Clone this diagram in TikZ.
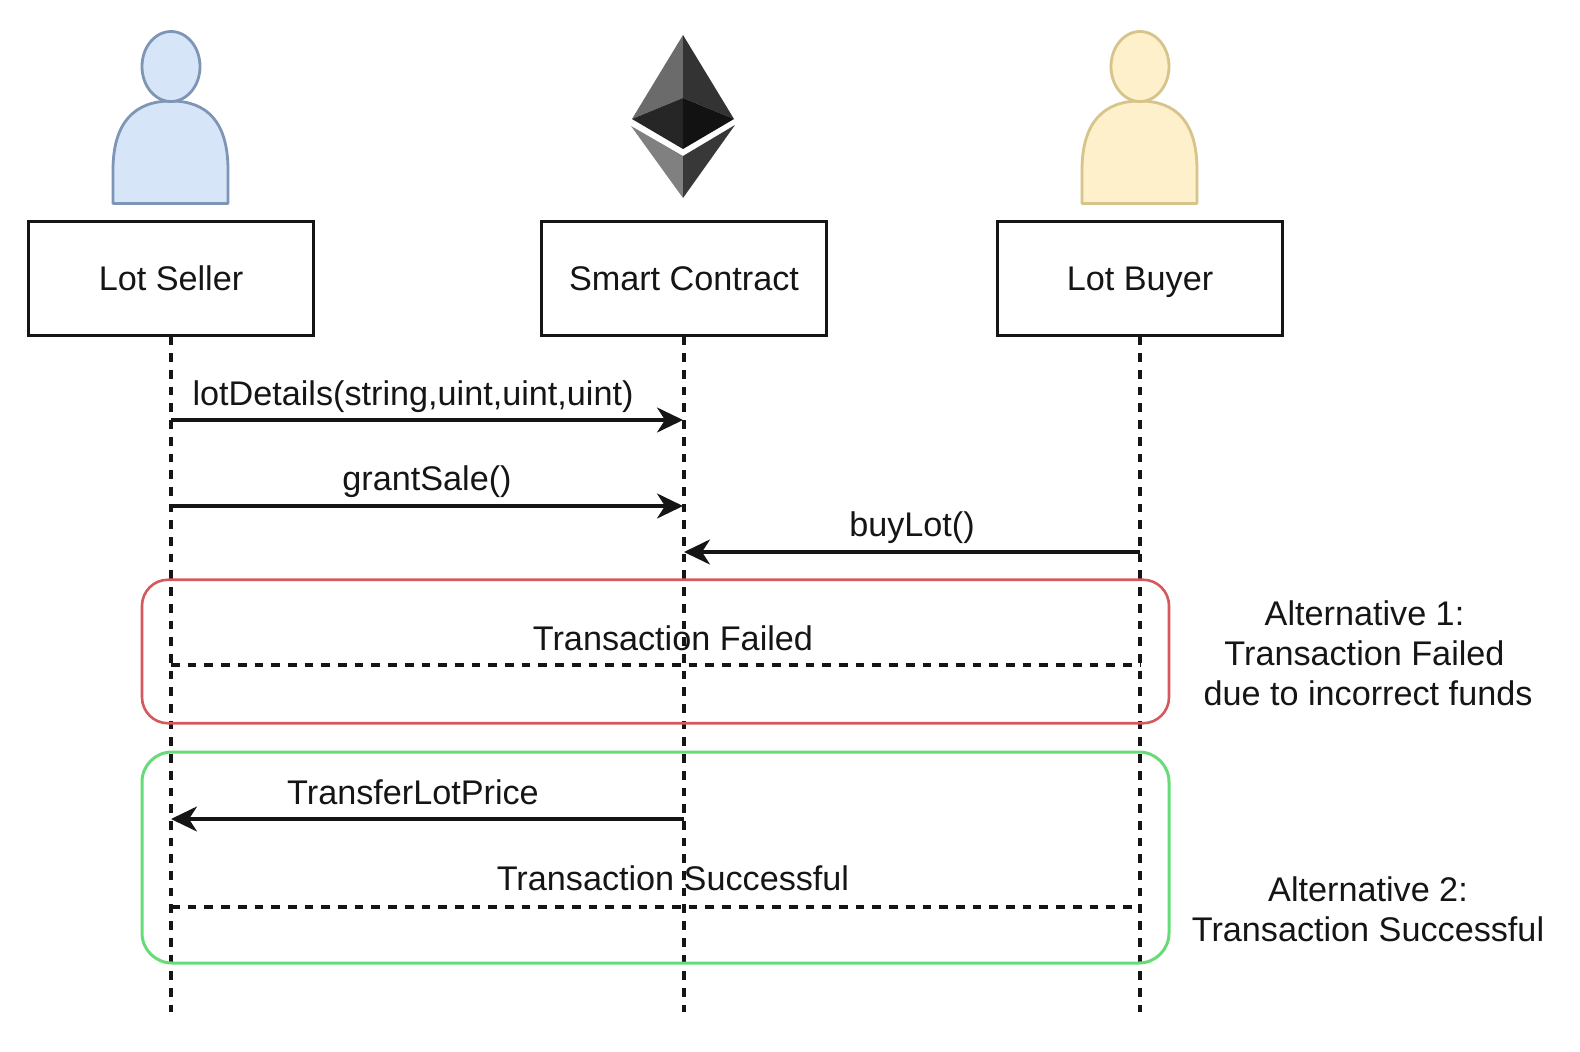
\documentclass[tikz,border=0pt]{standalone}
\usepackage{fontspec}
\setmainfont{Liberation Sans}
\usetikzlibrary{arrows.meta}
\definecolor{ink}{HTML}{151515}
\definecolor{sellerfill}{HTML}{D6E6F8}
\definecolor{sellerline}{HTML}{7F95B6}
\definecolor{buyerfill}{HTML}{FDF0CB}
\definecolor{buyerline}{HTML}{D6C48A}
\definecolor{failred}{HTML}{D6585C}
\definecolor{okgreen}{HTML}{66DC78}
\tikzset{
  actorbox/.style={draw=ink,line width=2.2pt,minimum width=285pt,minimum height=114pt,inner sep=0pt,text height=24pt,text depth=1pt,font=\fontsize{34.2}{39}\selectfont,text=ink},
  life/.style={draw=ink,line width=3.2pt,dash pattern=on 8.7pt off 8pt},
  msg/.style={draw=ink,line width=3.2pt,-{Stealth[length=26pt,width=25pt,inset=8pt]}},
  ret/.style={draw=ink,line width=3.2pt,dash pattern=on 8.7pt off 8pt},
  lbl/.style={font=\fontsize{34.2}{40}\selectfont,text=ink,inner sep=0pt,align=center},
  altred/.style={draw=failred,line width=2.6pt,rounded corners=26pt},
  altgreen/.style={draw=okgreen,line width=3pt,rounded corners=30pt}
}
\newcommand{\personfig}[3]{%
  \begin{scope}[xshift=#1pt]
    \path[fill=#2,draw=#3,line width=2.8pt,line join=round]
      (113,203.5) -- (113,170) .. controls (113,122) and (135,101) .. (171,101)
      .. controls (207,101) and (228,122) .. (228,170) -- (228,203.5) -- cycle;
    \path[fill=#2,draw=#3,line width=2.8pt] (171,66.5) ellipse [x radius=29pt,y radius=35pt];
  \end{scope}}
\begin{document}
\begin{tikzpicture}[x=1pt,y=-1pt]
\useasboundingbox (0,0) rectangle (1580,1052);
\fill[white] (0,0) rectangle (1580,1052);
% actors
\personfig{0}{sellerfill}{sellerline}
\personfig{969}{buyerfill}{buyerline}
% ethereum mark
\fill[black!58] (683,35) -- (632,119) -- (683,98) -- cycle;
\fill[black!80] (683,35) -- (734,119) -- (683,98) -- cycle;
\fill[black!85] (632,119) -- (683,98) -- (683,149) -- cycle;
\fill[black!93] (734,119) -- (683,98) -- (683,149) -- cycle;
\fill[black!50] (631,126) -- (683,156) -- (683,198) -- cycle;
\fill[black!78] (735,125) -- (683,156) -- (683,198) -- cycle;
% boxes
\node[actorbox] (seller) at (171,278.5) {Lot Seller};
\node[actorbox] (contract) at (684,278.5) {Smart Contract};
\node[actorbox] (buyer) at (1140,278.5) {Lot Buyer};
% lifeline ends
\coordinate (sellerEnd) at (171,1012);
\coordinate (contractEnd) at (684,1012);
\coordinate (buyerEnd) at (1140,1012);
\draw[life] (seller.south) -- (sellerEnd);
\draw[life] (contract.south) -- (contractEnd);
\draw[life] (buyer.south) -- (buyerEnd);
% alternative frames
\node[altred,minimum width=1027pt,minimum height=143.5pt,inner sep=0pt] (failframe) at (655.5,651.5) {};
\node[altgreen,minimum width=1027pt,minimum height=211pt,inner sep=0pt] (okframe) at (655.5,857.5) {};
% message anchors
\coordinate (s1) at (171,420);  \coordinate (c1) at (683,420);
\coordinate (s2) at (171,506);  \coordinate (c2) at (683,506);
\coordinate (b3) at (1140,552); \coordinate (c3) at (684,552);
\coordinate (s4) at (171,665);  \coordinate (b4) at (1140,665);
\coordinate (c5) at (684,819);  \coordinate (s5) at (171,819);
\coordinate (s6) at (171,907);  \coordinate (b6) at (1140,907);
\draw[msg] (s1) -- (c1);
\draw[msg] (s2) -- (c2);
\draw[msg] (b3) -- (c3);
\draw[ret] (s4) -- (b4);
\draw[msg] (c5) -- (s5);
\draw[ret] (s6) -- (b6);
% labels
\node[lbl] (m1) at (413,397) {lotDetails(string,uint,uint,uint)};
\node[lbl] (m2) at (427,482) {grantSale()};
\node[lbl] (m3) at (912,528) {buyLot()};
\node[lbl] (m4) at (673,638.5) {Transaction Failed};
\node[lbl] (m5) at (413,792.5) {TransferLotPrice};
\node[lbl] (m6) at (673,878.5) {Transaction Successful};
\node[lbl] (alt1) at (1368,653) {Alternative 1:\kern7pt\\Transaction Failed\kern7pt\\due to incorrect funds};
\node[lbl] (alt2) at (1368,909.5) {Alternative 2:\\Transaction Successful};
\end{tikzpicture}
\end{document}
